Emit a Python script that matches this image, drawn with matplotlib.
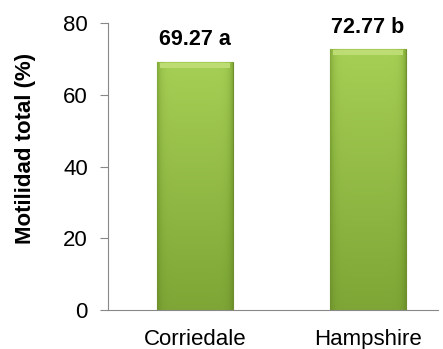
import numpy as np
import matplotlib.pyplot as plt
from matplotlib.colors import LinearSegmentedColormap

razas = ['Corriedale', 'Hampshire']
motilidad = [69.27, 72.77]
etiquetas = ['69.27 a', '72.77 b']
yticks = [0, 20, 40, 60, 80]

plt.rcParams['font.family'] = ['Liberation Sans', 'DejaVu Sans']

fig = plt.figure(figsize=(4.43, 3.49), dpi=100)
ax = fig.add_axes([0.2438, 0.1117, 0.745, 0.821])

x = np.arange(len(razas))
bars = ax.bar(x, motilidad, width=0.434, color='#9cc748', edgecolor='#6f8f2c', linewidth=0.8, zorder=2)

verde = LinearSegmentedColormap.from_list('verde', ['#5f7f22', '#7ea636', '#a6cf55'])

# sombreado tipo bisel dentro de cada barra
for b in bars:
    x0, y0 = b.get_x(), b.get_y()
    w, h = b.get_width(), b.get_height()
    gx = np.linspace(-1, 1, 80)
    gy = np.linspace(0, 1, 120)[:, None]
    vert = 0.6 + 0.4 * gy
    side = 1 - 0.35 * np.abs(gx) ** 10
    img = vert * side
    im = ax.imshow(img, extent=[x0, x0 + w, y0, y0 + h], origin='lower', aspect='auto',
                   cmap=verde, vmin=0.2, vmax=1, zorder=2.5, interpolation='bilinear')
    im.set_clip_path(b)
    ax.fill_between([x0 + w * 0.03, x0 + w * 0.97], y0 + h - 1.6, y0 + h - 0.3,
                    color='#bddd74', zorder=3, lw=0)

for xi, v, t in zip(x, motilidad, etiquetas):
    ax.text(xi, v + 4.7, t, ha='center', va='baseline', fontsize=15.5, fontweight='bold')

ax.set_xlim(-0.503, 1.405)
ax.set_ylim(0, 80)
ax.set_yticks(yticks)
ax.set_xticks(x)
ax.set_xticklabels(razas, fontsize=16)
ax.tick_params(axis='y', labelsize=16, length=5.5, color='#888888', pad=9)
ax.tick_params(axis='x', length=0, pad=14)
ax.set_ylabel('Motilidad total (%)', fontsize=16, fontweight='bold')
ax.yaxis.set_label_coords(-0.219, 0.565)
for s in ['top', 'right']:
    ax.spines[s].set_visible(False)
ax.spines['left'].set_color('#888888')
ax.spines['bottom'].set_color('#888888')

fig.savefig('out.png', dpi=100)
